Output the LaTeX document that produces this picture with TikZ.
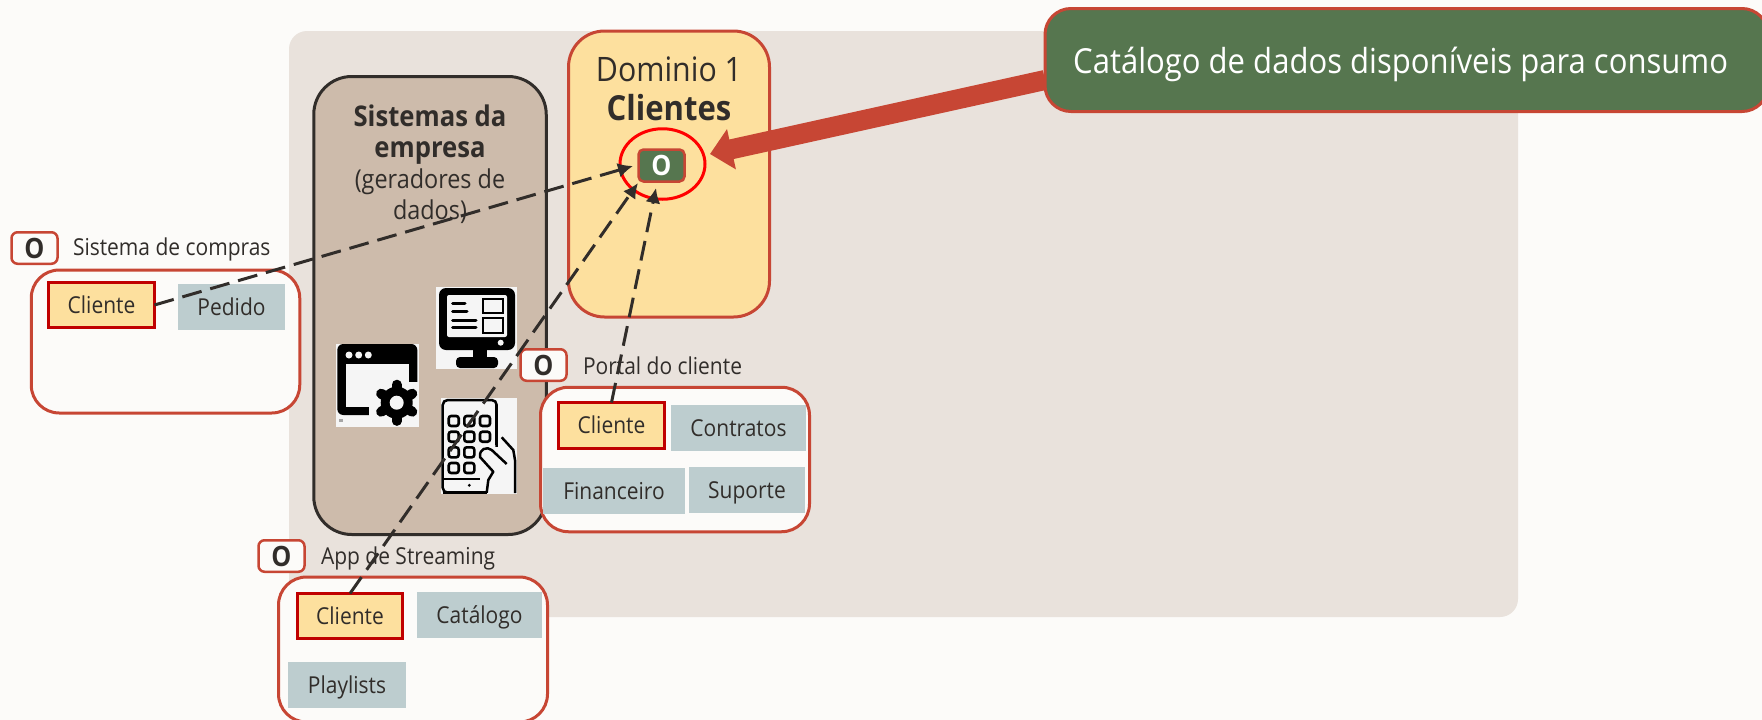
\documentclass[tikz,border=0pt]{standalone}
\usepackage{fontspec}
\setmainfont[FakeStretch=0.9]{Open Sans}
\usetikzlibrary{arrows.meta,shapes.geometric}
\definecolor{pagebg}{HTML}{FCFBF9}
\definecolor{panelbg}{HTML}{E9E2DC}
\definecolor{orared}{HTML}{C74634}
\definecolor{domfill}{HTML}{FDE09E}
\definecolor{sysfill}{HTML}{CDBBAB}
\definecolor{ink}{HTML}{312D2A}
\definecolor{okgreen}{HTML}{56764F}
\definecolor{teal}{HTML}{BDCDCF}
\definecolor{iconbg}{HTML}{F5F5F5}
\definecolor{cliborder}{HTML}{C00000}
\tikzset{
  x=1pt,y=-1pt,
  txt/.style={text=ink,inner sep=0pt,outer sep=0pt},
  sized/.style 2 args={minimum width=#1 pt,minimum height=#2 pt,inner sep=0pt,outer sep=0pt},
  container/.style 2 args={sized={#1}{#2},draw=orared,line width=3pt,fill=pagebg,rounded corners=28pt},
  clibox/.style 2 args={sized={#1}{#2},draw=cliborder,line width=2.5pt,fill=domfill,text=ink,text height=20pt,text depth=4pt,font=\fontsize{23.3}{27}\selectfont},
  tealbox/.style 2 args={sized={#1}{#2},fill=teal,text=ink,text height=20pt,text depth=4pt,font=\fontsize{23.3}{27}\selectfont},
  obox/.style={sized={46}{31.5},draw=orared,line width=2.5pt,fill=pagebg,rounded corners=6pt,text=ink,font=\fontsize{28}{32}\selectfont\bfseries},
  syslabel/.style={txt,anchor=base west,font=\fontsize{23.3}{27}\selectfont},
  feed/.style={draw=ink,line width=3pt,dash pattern=on 20pt off 9pt,-{Latex[length=15pt,width=15pt]}},
  iconline/.style={line width=3pt,line cap=round},
}
\begin{document}
\begin{tikzpicture}
\useasboundingbox (0,0) rectangle (1762,720);
\fill[pagebg] (0,0) rectangle (1762,720);
\node[sized={1229}{586},fill=panelbg,rounded corners=18pt] (panel) at (903.5,324) {};
\node[sized={232.5}{458},draw=ink,line width=3pt,fill=sysfill,rounded corners=38pt] (sys) at (430,305.5) {};
\node[txt,anchor=north,align=center,font=\fontsize{26}{31}\selectfont] (systext) at (430,105)
  {\fontsize{28.5}{31}\selectfont\textbf{Sistemas da}\\\fontsize{28.5}{31}\selectfont\textbf{empresa}\\(geradores de\\dados)};
\node[sized={201}{286},draw=orared,line width=3pt,fill=domfill,rounded corners=36pt] (dom) at (669,174) {};
\node[txt,anchor=base,font=\fontsize{33.7}{38}\selectfont] (domtitle) at (669,81) {Dominio 1};
\node[txt,anchor=base,font=\fontsize{34.5}{38}\selectfont\bfseries] (domname) at (669,120) {Clientes};
\node[sized={46}{32},draw=orared,line width=2.5pt,fill=okgreen,rounded corners=5pt,text=white,font=\fontsize{28}{32}\selectfont\bfseries] (catalog) at (661.5,165.5) {O};
\node[draw=red,line width=3pt,ellipse,minimum width=85pt,minimum height=70.5pt,inner sep=0pt] (ring) at (662.5,164) {};
% monitor icon
\fill[iconbg] (436,287) rectangle (517,369);
\fill[black,rounded corners=7pt] (439,288) rectangle (515,350);
\fill[iconbg,rounded corners=2pt] (447,295) rectangle (507,337);
\fill[black] (473,349) rectangle (487,359);
\fill[black,rounded corners=4pt] (456,357) rectangle (498,368);
\foreach \yy/\xe in {303.3/465,311.7/467,320/476,327.7/476}
  \draw[iconline] (452.7,\yy) -- (\xe,\yy);
\draw[line width=2pt] (483.3,299.3) rectangle (502.7,313.3);
\draw[line width=2pt] (483.3,318.3) rectangle (502.7,332.7);
\fill[iconbg] (500.7,342.7) circle[radius=3];
% window and gear icon
\fill[iconbg] (336,344) rectangle (419,427);
\fill[black,rounded corners=6pt] (337.3,344) rectangle (417.3,415);
\fill[iconbg] (346,364.3) rectangle (409,406.7);
\foreach \xx in {349,358.7,368.3} \fill[iconbg] (\xx,355) circle[radius=3.5];
\fill[iconbg] (369,382) rectangle (419,427);
\fill[black] (396.7,402.7) circle[radius=16];
\foreach \aa in {90,150,...,450}
  \draw[black,line width=10pt,line cap=round] (396.7,402.7) -- ++({\aa}:{18});
\fill[iconbg] (396.7,402.7) circle[radius=7];
\fill[gray!70] (339,418.5) rectangle (343,422);
% tablet icon
\fill[iconbg] (441,398) rectangle (517,494);
\draw[black,line width=2.5pt,rounded corners=5pt] (442.7,400) rectangle (496.7,492.7);
\foreach \xx/\yy in {453.7/421,469.3/421,485/421,453.7/436.7,469.3/436.7,485/436.7,453.7/452.3,469.3/452.3,453.7/468,469.3/468}
  \draw[black,line width=2.6pt,rounded corners=2.5pt] (\xx-5,\yy-5) rectangle (\xx+5,\yy+5);
\draw[black,line width=2pt] (442.7,479) -- (483.3,479);
\fill[black] (469.3,485.3) circle[radius=1.6];
\fill[iconbg] (480,447) rectangle (516,493.5);
\draw[black,line width=2.5pt] (442.7,492.7) -- (486.7,492.7);
\draw[black,line width=2.5pt,line join=round] (506.7,464) -- (491.7,450) .. controls (487,446) and (479,449) .. (480,457) -- (493.3,471.7) -- (488.3,480) -- (486.7,492.7);
\draw[black,line width=2.5pt,line join=round] (501.7,437.3) -- (513.3,450) -- (515,460) -- (515,493);
\draw[black,line width=2.5pt] (496.7,405) -- (496.7,445);
% callout and thick arrow
\coordinate (calloutedge) at (1045,80);
\coordinate (ringtip) at (710,154);
\draw[orared,line width=20pt,-{Triangle[length=22pt,width=40pt]}] (calloutedge) -- (ringtip);
\node[sized={723}{103},draw=orared,line width=3pt,fill=okgreen,rounded corners=26pt] (callout) at (1406.5,60) {};
\node[anchor=base west,inner sep=0pt,text=white,font=\fontsize{34.5}{40}\selectfont] (callouttext) at (1073,73) {Catálogo de dados disponíveis para consumo};
% Sistema de compras
\node[obox] (oA) at (34.5,248) {O};
\node[syslabel] (lA) at (73,255) {Sistema de compras};
\node[container={268.5}{143}] (boxA) at (165.5,341.5) {};
\node[clibox={106}{45}] (cliA) at (101.5,305) {Cliente};
\node[tealbox={107}{46}] (pedido) at (231.5,307) {Pedido};
% Portal do cliente
\node[container={269}{144.5}] (boxB) at (675,459.5) {};
\node[obox] (oB) at (543.5,365) {O};
\node[syslabel] (lB) at (583,374) {Portal do cliente};
\node[clibox={106}{46}] (cliB) at (611.5,425.5) {Cliente};
\node[tealbox={135}{46}] (contratos) at (738.5,428) {Contratos};
\node[tealbox={142}{46}] (financeiro) at (614,491) {Financeiro};
\node[tealbox={116}{46}] (suporte) at (747,490) {Suporte};
% App de Streaming
\node[container={269}{145}] (boxC) at (413,649.5) {};
\node[obox] (oC) at (281.5,556) {O};
\node[syslabel] (lC) at (321,564) {App de Streaming};
\node[clibox={105}{45}] (cliC) at (350,616) {Cliente};
\node[tealbox={125}{46}] (catalogo) at (479.5,615) {Catálogo};
\node[tealbox={118}{46}] (playlists) at (347,685) {Playlists};
% feeds
\coordinate (tipA) at (633,166);
\coordinate (tipB) at (638,183);
\coordinate (tipC) at (656,188);
\draw[feed] (cliA.east) -- (tipA);
\draw[feed] (cliC.north) -- (tipB);
\draw[feed] (cliB.north) -- (tipC);
\end{tikzpicture}
\end{document}
